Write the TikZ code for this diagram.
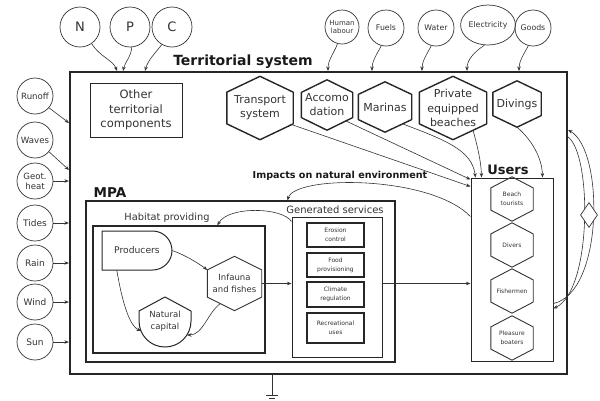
\documentclass[tikz,border=0pt]{standalone}
\usepackage{fontspec}
\setmainfont{DejaVu Sans}
\usetikzlibrary{calc,arrows.meta,shapes.geometric}
\newcommand{\fsz}[2]{\fontsize{#1}{#2}\selectfont}
\tikzset{
  arr/.style={draw=black!80, line width=0.6pt, -{Stealth[length=4.5pt,width=3.5pt]}},
  plainln/.style={draw=black!80, line width=0.7pt},
  circ/.style={circle, draw=black!80, line width=0.7pt, inner sep=0pt, align=center},
  box/.style={rectangle, draw=black!85, inner sep=0pt, align=center},
  hexbox/.style={inner sep=0pt, align=center},
  lbl/.style={inner sep=0pt, align=center},
  hexthick/.style={draw=black!85, line width=1.4pt, line join=round},
  hexthin/.style={draw=black!80, line width=0.9pt, line join=round},
  shapeln/.style={draw=black!85, line width=1pt, line join=round},
}
\newcommand{\hexdraw}[2]{%
  \draw[#1] (#2.north) -- ($(#2.north east)!0.25!(#2.south east)$) -- ($(#2.north east)!0.75!(#2.south east)$) -- (#2.south) -- ($(#2.south west)!0.25!(#2.north west)$) -- ($(#2.south west)!0.75!(#2.north west)$) -- cycle;}
\begin{document}
\begin{tikzpicture}[x=1pt,y=-1pt, text=black!80]
\useasboundingbox (0,0) rectangle (600,400);

% main territorial box
\node[box, line width=2.2pt, minimum width=497pt, minimum height=302pt] (terr) at (318.5,223) {};
\node[lbl, font=\bfseries\fsz{14}{16}, text=black!90] (terrlbl) at (243,62) {Territorial system};

% top circles
\node[circ, minimum size=40pt, font=\fsz{13}{15}] (N) at (80,27) {N};
\node[circ, minimum size=40pt, font=\fsz{13}{15}] (P) at (130,27) {P};
\node[circ, minimum size=40pt, font=\fsz{13}{15}] (C) at (172,27) {C};
\node[circ, minimum size=34pt, font=\fsz{7}{8}] (HL) at (342,27) {Human\\labour};
\node[circ, minimum size=36pt, font=\fsz{7.8}{9}] (fuels) at (386,28) {Fuels};
\node[circ, minimum size=36pt, font=\fsz{7.8}{9}] (water) at (436,28) {Water};
\node[circ, ellipse, minimum width=47pt, minimum height=40pt, font=\fsz{7.8}{9}] (elec) at (488,25) {Electricity};
\node[circ, minimum size=36pt, font=\fsz{7.8}{9}] (goods) at (533,28) {Goods};

% left circles
\node[circ, minimum size=36pt, font=\fsz{8.6}{10}] (runoff) at (35,96) {Runoff};
\node[circ, minimum size=36pt, font=\fsz{8.6}{10}] (waves) at (35,140) {Waves};
\node[circ, minimum size=36pt, font=\fsz{8.6}{10}] (geot) at (35,181) {Geot.\\heat};
\node[circ, minimum size=36pt, font=\fsz{9}{10}] (tides) at (35,223) {Tides};
\node[circ, minimum size=36pt, font=\fsz{9}{10}] (rain) at (35,263) {Rain};
\node[circ, minimum size=36pt, font=\fsz{9}{10}] (wind) at (35,302) {Wind};
\node[circ, minimum size=36pt, font=\fsz{9}{10}] (sun) at (35,342) {Sun};

% other territorial components
\node[box, line width=0.9pt, minimum width=92pt, minimum height=54pt, font=\fsz{11.5}{14.5}] (other) at (136,110) {Other\\territorial\\components};

% territorial hexagons
\node[hexbox, minimum width=66pt, minimum height=63pt, font=\fsz{11}{14}] (transport) at (260,108) {Transport\\system};
\hexdraw{hexthick}{transport}
\node[hexbox, minimum width=51pt, minimum height=50pt, font=\fsz{11}{14}] (accom) at (327,105) {Accomo\\dation};
\hexdraw{hexthick}{accom}
\node[hexbox, minimum width=53pt, minimum height=50pt, font=\fsz{11}{14}] (marinas) at (385,107) {Marinas};
\hexdraw{hexthick}{marinas}
\node[hexbox, minimum width=67pt, minimum height=63pt, font=\fsz{11}{14.2}] (private) at (453,108) {Private\\equipped\\beaches};
\hexdraw{hexthick}{private}
\node[hexbox, minimum width=48pt, minimum height=46pt, font=\fsz{11}{14}] (divings) at (517,104) {Divings};
\hexdraw{hexthick}{divings}

% MPA
\node[lbl, font=\bfseries\fsz{13.5}{15}, text=black!90] (mpalbl) at (110,193) {MPA};
\node[box, line width=1.1pt, minimum width=309pt, minimum height=161pt] (mpa) at (240.5,281.5) {};

% habitat providing
\node[lbl, font=\fsz{9.8}{12}] (hablbl) at (167,218) {Habitat providing};
\node[box, line width=1.2pt, minimum width=172pt, minimum height=127pt] (hab) at (179,289.5) {};

% producers (D shape)
\node[lbl, minimum width=70pt, minimum height=39pt, font=\fsz{9.2}{11}] (prod) at (137,250.5) {Producers};
\draw[shapeln] (102,231) -- (152.5,231) .. controls (163.3,231) and (172,239.7) .. (172,250.5)
  .. controls (172,261.3) and (163.3,270) .. (152.5,270) -- (102,270) -- cycle;

% infauna
\node[hexbox, minimum width=54pt, minimum height=54pt, font=\fsz{8.5}{11.5}] (inf) at (234.5,283.5) {Infauna\\and fishes};
\hexdraw{hexthin}{inf}

% natural capital
\node[lbl, minimum width=52pt, minimum height=50pt, font=\fsz{8.5}{11.5}] (nat) at (165,321) {Natural\\capital};
\draw[shapeln] (165,297) -- (191,311) -- (191,321) .. controls (191,335.4) and (179.4,347) .. (165,347)
  .. controls (150.6,347) and (139,335.4) .. (139,321) -- (139,311) -- cycle;

% generated services
\node[lbl, font=\fsz{10}{12}] (gslbl) at (335,210) {Generated services};
\node[box, line width=1pt, minimum width=90pt, minimum height=140pt] (gs) at (337,287) {};
\node[box, line width=1.6pt, minimum width=57pt, minimum height=24pt, font=\fsz{6}{9}] (ero) at (335.5,235) {Erosion\\control};
\node[box, line width=1.6pt, minimum width=57pt, minimum height=24pt, font=\fsz{6}{9}] (food) at (335.5,265) {Food\\provisioning};
\node[box, line width=1.6pt, minimum width=57pt, minimum height=25pt, font=\fsz{6}{9}] (clim) at (335.5,294.5) {Climate\\regulation};
\node[box, line width=1.6pt, minimum width=57pt, minimum height=30pt, font=\fsz{6}{9}] (rec) at (335.5,328) {Recreational\\uses};

% users
\node[lbl, font=\bfseries\fsz{13}{15}, text=black!90] (userslbl) at (508,170) {Users};
\node[box, line width=1pt, minimum width=82pt, minimum height=183pt] (users) at (512,269.5) {};
\node[hexbox, minimum width=42pt, minimum height=44pt, font=\fsz{6}{9}] (beach) at (512,199) {Beach\\tourists};
\hexdraw{hexthin}{beach}
\node[hexbox, minimum width=42pt, minimum height=44pt, font=\fsz{6}{9}] (divers) at (512,245) {Divers};
\hexdraw{hexthin}{divers}
\node[hexbox, minimum width=42pt, minimum height=44pt, font=\fsz{6}{9}] (fish) at (512,291) {Fishermen};
\hexdraw{hexthin}{fish}
\node[hexbox, minimum width=42pt, minimum height=44pt, font=\fsz{6}{9}] (boat) at (512,338) {Pleasure\\boaters};
\hexdraw{hexthin}{boat}

\node[lbl, font=\bfseries\fsz{9.6}{11}, text=black!90] (implbl) at (340,176) {Impacts on natural environment};

% entry points on the territorial border
\coordinate (eN) at (117,71);
\coordinate (eP) at (123,71);
\coordinate (eC) at (145,71);
\coordinate (eHL) at (328,71);
\coordinate (eFu) at (372,71);
\coordinate (eWa) at (422,71);
\coordinate (eEl) at (467,71);
\coordinate (eGo) at (519,71);
\coordinate (eRu) at (69,123);
\coordinate (eWv) at (69,170);

% top inputs
\draw[arr] (N.-55) .. controls (100,57) and (113,60) .. (eN);
\draw[arr] (P.-85) .. controls (131,57) and (125,62) .. (eP);
\draw[arr] (C.-120) .. controls (156,52) and (148,60) .. (eC);
\draw[arr] (HL.-105) .. controls (334,53) and (328,60) .. (eHL);
\draw[arr] (fuels.-105) .. controls (377,54) and (372,61) .. (eFu);
\draw[arr] (water.-105) .. controls (427,54) and (422,61) .. (eWa);
\draw[arr] (elec.-100) .. controls (474,52) and (467,60) .. (eEl);
\draw[arr] (goods.-105) .. controls (524,54) and (519,61) .. (eGo);

% left inputs
\draw[arr] (runoff.-40) -- (eRu);
\draw[arr] (waves.-40) -- (eWv);
\draw[arr] (geot) -- (geot -| terr.west);
\draw[arr] (tides) -- (tides -| terr.west);
\draw[arr] (rain) -- (rain -| terr.west);
\draw[arr] (wind) -- (wind -| terr.west);
\draw[arr] (sun) -- (sun -| terr.west);

% hexagons to users
\draw[arr] ($(transport.center)+(30,16)$) -- ($(users.north west)+(0,9)$);
\draw[arr] ($(accom.center)+(19,16)$) -- ($(users.north west)+(0,2)$);
\draw[arr] ($(marinas.center)+(18,17)$) .. controls (445,140) and (472,150) .. ($(users.north west)+(5,0)$);
\draw[arr] ($(private.center)+(20,22)$) .. controls (477,145) and (481,160) .. ($(users.north west)+(11,0)$);
\draw[arr] (divings.south) .. controls (532,140) and (542,158) .. ($(users.north west)+(72,0)$);

% impacts on natural environment
\draw[arr] ($(users.north west)+(0,39)$) .. controls (430,175) and (295,175) .. ($(mpa.north west)+(202,0)$);

% generated services -> habitat
\draw[arr] ($(gs.north west)+(0,5)$) .. controls (282,207) and (228,206) .. ($(hab.north west)+(125,0)$);

% inside habitat
\draw[arr] (prod.east) .. controls (185,255) and (198,263) .. ($(inf.north west)!0.25!(inf.south west)$);
\draw[arr] ($(prod.south west)+(15,0)$) .. controls (121,295) and (128,325) .. ($(nat.center)+(-24,10)$);
\draw[arr] ($(inf.center)+(-14,20)$) .. controls (208,312) and (203,335) .. ($(nat.center)+(22,14)$);

% flows to the right
\draw[arr] (inf.east) -- (inf.east -| gs.west);
\draw[arr] (gs.east |- inf.east) -- (users.west |- inf.east);

% right loop
\draw[arr] ($(users.east)+(0,34)$) .. controls (604,292) and (604,150) .. ($(terr.east)+(0,-93)$);
\draw[arr] ($(terr.east)+(0,-86)$) .. controls (592,155) and (592,290) .. ($(users.east)+(0,39)$);
\node[diamond, draw=black!80, fill=white, line width=0.7pt, minimum width=17pt, minimum height=25pt, inner sep=0pt] (dia) at (589,215) {};

% heat sink
\coordinate (gnd) at (272,395);
\draw[plainln] (terr.south -| gnd) -- (gnd);
\draw[plainln] ($(gnd)+(-6,0)$) -- ($(gnd)+(6,0)$);
\draw[plainln] ($(gnd)+(-3,3)$) -- ($(gnd)+(3,3)$);
\end{tikzpicture}
\end{document}
